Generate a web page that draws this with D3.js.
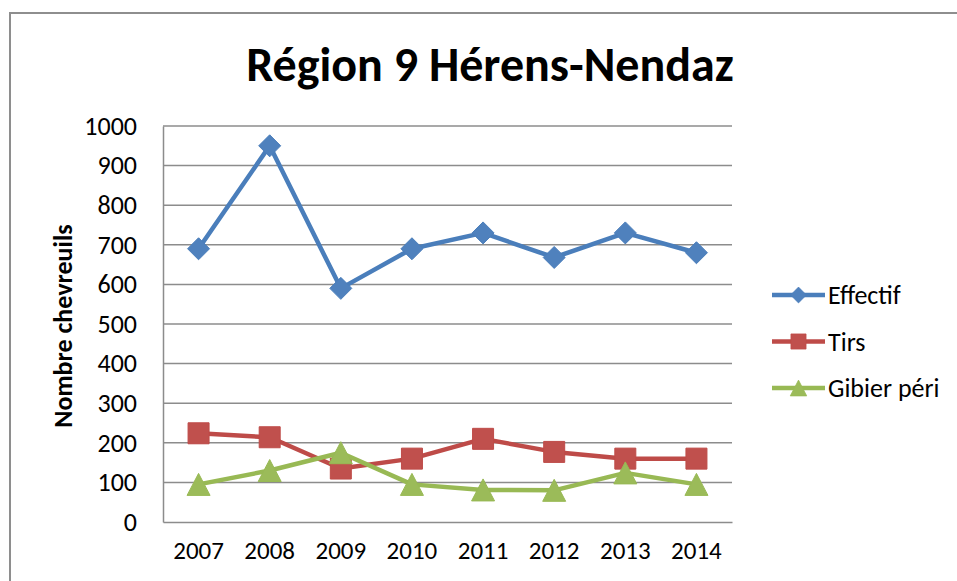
<!DOCTYPE html>
<html>
<head>
<meta charset="utf-8">
<script src="https://cdn.jsdelivr.net/npm/d3@7"></script>
<style>
  body { margin: 0; background: #fff; }
  svg { display: block; font-family: Calibri, Carlito, Lato, sans-serif; }
</style>
</head>
<body>
<svg id="chart"></svg>
<script>
// Data
const years = ["2007", "2008", "2009", "2010", "2011", "2012", "2013", "2014"];
const effectif = [690, 950, 590, 690, 730, 668, 730, 680];
const tirs = [224, 214, 135, 160, 210, 177, 160, 160];
const gibier = [95, 130, 175, 95, 81, 80, 124, 95];
const seriesNames = ["Effectif", "Tirs", "Gibier péri"];
const yTicks = [0, 100, 200, 300, 400, 500, 600, 700, 800, 900, 1000];

const W = 957, H = 581;
const margin = { top: 126, right: 225, bottom: 59, left: 163 },
      width = W - margin.left - margin.right,
      height = H - margin.top - margin.bottom;

const svgRoot = d3.select("#chart")
    .attr("width", W)
    .attr("height", H);

// outer chart border (runs off right and bottom)
svgRoot.append("rect")
    .attr("x", 10)
    .attr("y", 13)
    .attr("width", W + 20)
    .attr("height", H + 20)
    .attr("fill", "none")
    .attr("stroke", "#8e8e8e")
    .attr("stroke-width", 2);

svgRoot.append("text")
    .attr("x", 490)
    .attr("y", 81)
    .attr("text-anchor", "middle")
    .attr("font-size", 48)
    .attr("font-weight", "bold")
    .attr("fill", "#000")
    .text("Région 9 Hérens-Nendaz");

const svg = svgRoot.append("g")
    .attr("transform", `translate(${margin.left},${margin.top})`);

const x = d3.scaleBand()
    .domain(years)
    .range([0, width]);

const y = d3.scaleLinear()
    .domain([0, 1000])
    .range([height, 0]);

// gridlines
svg.append("g")
    .selectAll("line")
    .data(yTicks.slice(1))
    .join("line")
    .attr("x1", 0)
    .attr("x2", width)
    .attr("y1", d => y(d))
    .attr("y2", d => y(d))
    .attr("stroke", "#8c8c8c")
    .attr("stroke-width", 1.5);

// axes
const yAxis = svg.append("g")
    .call(d3.axisLeft(y).tickValues(yTicks).tickFormat(d3.format("d")).tickSize(0).tickPadding(26));
yAxis.select(".domain").attr("stroke", "#8c8c8c").attr("stroke-width", 1.5);
yAxis.selectAll("text").attr("font-size", 26).attr("fill", "#000")
    .attr("font-family", "Calibri, Carlito, Lato, sans-serif");

const xAxis = svg.append("g")
    .attr("transform", `translate(0,${height})`)
    .call(d3.axisBottom(x).tickSize(0).tickPadding(19));
xAxis.select(".domain").attr("stroke", "#8c8c8c").attr("stroke-width", 1.5);
xAxis.selectAll("text").attr("font-size", 25).attr("fill", "#000")
    .attr("font-family", "Calibri, Carlito, Lato, sans-serif");

svgRoot.append("text")
    .attr("transform", `translate(72,${margin.top + height / 2 + 2}) rotate(-90)`)
    .attr("text-anchor", "middle")
    .attr("font-size", 26)
    .attr("font-weight", "bold")
    .text("Nombre chevreuils");

const series = [
    { name: seriesNames[0], values: effectif, line: "#4a7ebb", fill: "#4f81bd", shape: "diamond" },
    { name: seriesNames[1], values: tirs, line: "#be4b48", fill: "#c0504d", shape: "square" },
    { name: seriesNames[2], values: gibier, line: "#98b954", fill: "#9bbb59", shape: "triangle" }
];

function markerPath(shape) {
    if (shape === "diamond") return "M0,-11L11,0L0,11L-11,0Z";
    if (shape === "square") return "M-10.5,-10.5H10.5V10.5H-10.5Z";
    return "M0,-11L11.5,11L-11.5,11Z";
}

const line = d3.line()
    .x((d, i) => x(years[i]) + x.bandwidth() / 2)
    .y(d => y(d));

series.forEach(s => {
    svg.append("path")
        .datum(s.values)
        .attr("fill", "none")
        .attr("stroke", s.line)
        .attr("stroke-width", 4.5)
        .attr("stroke-linejoin", "round")
        .attr("d", line);

    svg.append("g")
        .selectAll("path")
        .data(s.values)
        .join("path")
        .attr("transform", (d, i) => `translate(${x(years[i]) + x.bandwidth() / 2},${y(d)})`)
        .attr("d", markerPath(s.shape))
        .attr("fill", s.fill)
        .attr("stroke", s.line)
        .attr("stroke-width", 1);
});

// legend
const legend = svgRoot.append("g")
    .selectAll("g")
    .data(series)
    .join("g")
    .attr("transform", (d, i) => `translate(772,${295 + i * 46.5})`);

legend.append("line")
    .attr("x1", 0)
    .attr("x2", 53)
    .attr("stroke", d => d.line)
    .attr("stroke-width", 4.5);

legend.append("path")
    .attr("transform", "translate(26.5,0) scale(0.72)")
    .attr("d", d => markerPath(d.shape))
    .attr("fill", d => d.fill)
    .attr("stroke", d => d.line);

legend.append("text")
    .attr("x", 56)
    .attr("dy", "0.35em")
    .attr("font-size", 26)
    .text(d => d.name);
</script>
</body>
</html>
